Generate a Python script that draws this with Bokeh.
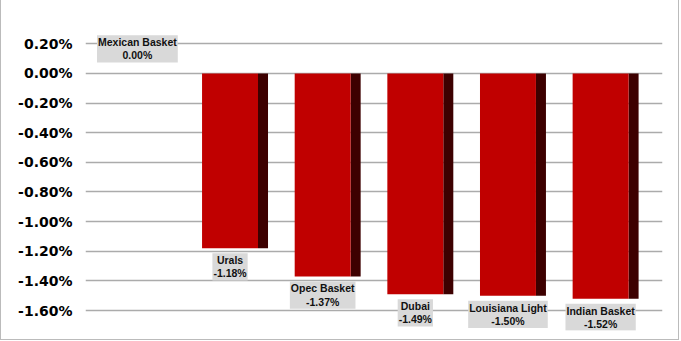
from bokeh.plotting import figure
from bokeh.models import ColumnDataSource, Range1d, FixedTicker, NumeralTickFormatter
from bokeh.embed import file_html
from bokeh.resources import INLINE
from bokeh.core.properties import value

categories = ["Mexican Basket", "Urals", "Opec Basket", "Dubai", "Louisiana Light", "Indian Basket"]
changes = [0.0, -0.0118, -0.0137, -0.0149, -0.0150, -0.0152]
tick_values = [0.002, 0.0, -0.002, -0.004, -0.006, -0.008, -0.010, -0.012, -0.014, -0.016]

FRONT_L, FRONT_R, SIDE_R = -0.356, 0.248, 0.356
idx = list(range(len(categories)))

src = ColumnDataSource(dict(
    idx=idx,
    v=changes,
    fl=[i + FRONT_L for i in idx],
    fr=[i + FRONT_R for i in idx],
    sr=[i + SIDE_R for i in idx],
    zero=[0.0] * len(idx),
))

p = figure(width=679, height=340, output_backend="svg", toolbar_location=None,
           x_range=Range1d(-0.614, 5.614), y_range=Range1d(-0.01735, 0.0029),
           x_axis_location=None, min_border_left=84, min_border_right=18,
           min_border_top=30, min_border_bottom=10)
p.styles = {"border-left": "1px solid #BBBBBB", "border-right": "1px solid #BBBBBB",
            "border-bottom": "1px solid #BBBBBB"}
p.outline_line_color = None
p.background_fill_color = "white"
p.border_fill_color = "white"

p.xgrid.visible = False
p.ygrid.ticker = FixedTicker(ticks=tick_values)
p.ygrid.grid_line_color = "#ABABAB"
p.ygrid.grid_line_width = 1.5

ax = p.yaxis[0]
ax.ticker = FixedTicker(ticks=tick_values)
ax.formatter = NumeralTickFormatter(format="0.00%")
ax.axis_line_color = None
ax.major_tick_line_color = None
ax.minor_tick_line_color = None
ax.major_tick_out = 0
ax.major_tick_in = 0
ax.major_label_standoff = 13
ax.major_label_text_font = "DejaVu Sans"
ax.major_label_text_font_style = "bold"
ax.major_label_text_font_size = "14px"
ax.major_label_text_color = "black"

# bar side (depth) and front
p.quad(left="fr", right="sr", top="zero", bottom="v", source=src,
       fill_color="#3D0000", line_color=None)
p.quad(left="fl", right="fr", top="zero", bottom="v", source=src,
       fill_color="#C00000", line_color=None)

labels = [f"{c}\n{v:.2%}" for c, v in zip(categories, changes)]
lx = [i + (FRONT_L + FRONT_R) / 2 for i in idx]

neg = [k for k in idx if changes[k] < 0]
pos = [k for k in idx if changes[k] >= 0]

for sel, baseline, off in ((neg, "top", 5), (pos, "bottom", -11)):
    s = ColumnDataSource(dict(x=[lx[k] for k in sel], y=[changes[k] for k in sel],
                              t=[labels[k] for k in sel]))
    p.text(x="x", y="y", text="t", source=s, text_align="center",
           text_baseline=baseline, y_offset=off,
           text_font=value("Liberation Sans"), text_font_style="bold",
           text_font_size="10.5px", text_color="#111111", text_line_height=1.1,
           background_fill_color="#D9D9D9", padding=1)

open("out.html", "w").write(file_html(p, INLINE))
